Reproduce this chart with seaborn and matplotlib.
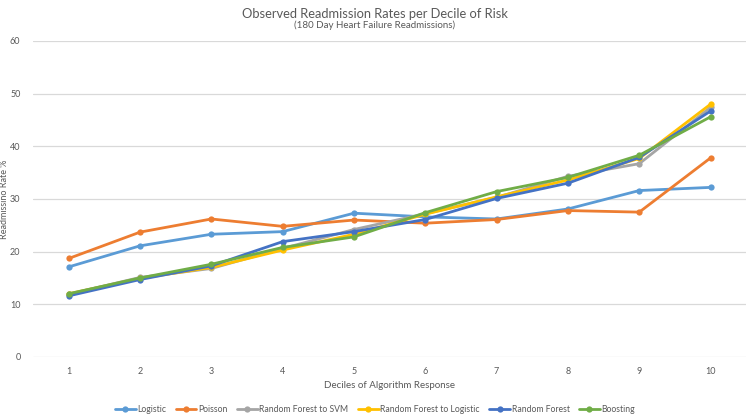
import numpy as np
import pandas as pd
import matplotlib
matplotlib.use("Agg")
import matplotlib.pyplot as plt
import seaborn as sns

deciles = [1, 2, 3, 4, 5, 6, 7, 8, 9, 10]
logistic = [17.1, 21.1, 23.3, 23.8, 27.3, 26.6, 26.2, 28.1, 31.6, 32.2]
poisson = [18.7, 23.7, 26.2, 24.8, 26.0, 25.4, 26.1, 27.8, 27.5, 37.8]
rf_svm = [11.9, 15.1, 16.8, 20.6, 24.2, 27.2, 30.3, 34.3, 36.7, 47.4]
rf_logistic = [12.0, 14.9, 17.0, 20.3, 23.3, 27.1, 30.4, 33.6, 37.7, 48.0]
random_forest = [11.6, 14.7, 17.3, 21.9, 23.8, 26.1, 30.1, 33.0, 37.9, 46.7]
boosting = [12.0, 15.0, 17.6, 20.8, 22.8, 27.4, 31.4, 34.1, 38.3, 45.6]

series_names = ["Logistic", "Poisson", "Random Forest to SVM",
                "Random Forest to Logistic", "Random Forest", "Boosting"]
series_values = [logistic, poisson, rf_svm, rf_logistic, random_forest, boosting]
colors = ["#5B9BD5", "#ED7D31", "#A5A5A5", "#FFC000", "#4472C4", "#70AD47"]

title = "Observed Readmission Rates per Decile of Risk"
subtitle = "(180 Day Heart Failure Readmissions)"
xlabel = "Deciles of Algorithm Response"
ylabel = "Readmissino Rate %"

rows = []
for name, vals in zip(series_names, series_values):
    for d, v in zip(deciles, vals):
        rows.append({"Decile": d, "Rate": v, "Model": name})
df = pd.DataFrame(rows)

sns.set_style("white")
plt.rcParams["font.family"] = ["Lato", "DejaVu Sans"]

fig = plt.figure(figsize=(7.5, 4.18), dpi=100)
ax = fig.add_axes([0.044, 0.146, 0.951, 0.756])

sns.lineplot(data=df, x="Decile", y="Rate", hue="Model", hue_order=series_names,
             palette=colors, marker="o", markersize=4.5, markeredgewidth=0,
             linewidth=2, ax=ax, legend=True)

ax.set_xlim(0.5, 10.5)
ax.set_ylim(0, 60)
ax.set_xticks(deciles)
ax.set_xticklabels([str(d) for d in deciles])
ax.set_yticks([0, 10, 20, 30, 40, 50, 60])
ax.grid(axis="y", color="#D9D9D9", linewidth=0.9)
ax.grid(axis="x", visible=False)
ax.set_axisbelow(True)
for s in ["top", "right", "left", "bottom"]:
    ax.spines[s].set_visible(False)
ax.tick_params(axis="both", length=0, labelsize=6.5, labelcolor="#595959")
ax.tick_params(axis="y", pad=9)
ax.tick_params(axis="x", pad=7)
ax.set_xlabel(xlabel, fontsize=7, color="#595959", labelpad=4)
ax.set_ylabel(ylabel, fontsize=6.5, color="#595959")
ax.yaxis.set_label_coords(-0.033, 0.5)

fig.text(0.5, 0.966, title, ha="center", va="center", fontsize=9.3, color="#595959")
fig.text(0.5, 0.939, subtitle, ha="center", va="center", fontsize=7, color="#595959")

handles, labels = ax.get_legend_handles_labels()
ax.legend(handles, labels, loc="center", bbox_to_anchor=(0.5, 0.02),
          bbox_transform=fig.transFigure, ncol=6, frameon=False, fontsize=6.2,
          labelcolor="#595959", handlelength=2.4, handletextpad=0.2, columnspacing=1.1)

fig.savefig("out.png", dpi=100)
